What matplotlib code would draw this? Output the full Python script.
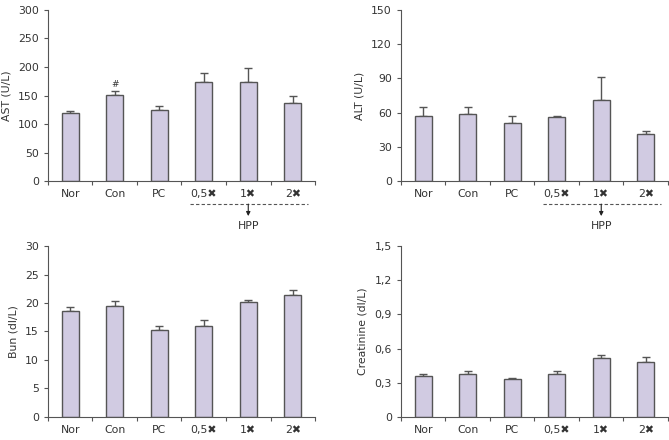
import matplotlib.pyplot as plt
from matplotlib.transforms import blended_transform_factory

plt.rcParams['font.family'] = ['DejaVu Sans']

groups = ['Nor', 'Con', 'PC', '0,5✖', '1✖', '2✖']

ast = [120, 151, 125, 173, 173, 137]
ast_err = [3, 7, 7, 17, 26, 13]

alt = [57, 59, 51, 56, 71, 41]
alt_err = [8, 6, 6, 1, 20, 3]

bun = [18.6, 19.4, 15.2, 16.0, 20.1, 21.4]
bun_err = [0.7, 0.9, 0.7, 1.0, 0.5, 0.9]

crea = [0.36, 0.38, 0.33, 0.38, 0.52, 0.48]
crea_err = [0.02, 0.02, 0.015, 0.02, 0.02, 0.05]

panels = [
    (ast, ast_err, 'AST (U/L)', [0, 50, 100, 150, 200, 250, 300],
     ['0', '50', '100', '150', '200', '250', '300'], True, True),
    (alt, alt_err, 'ALT (U/L)', [0, 30, 60, 90, 120, 150],
     ['0', '30', '60', '90', '120', '150'], True, False),
    (bun, bun_err, 'Bun (dl/L)', [0, 5, 10, 15, 20, 25, 30],
     ['0', '5', '10', '15', '20', '25', '30'], False, False),
    (crea, crea_err, 'Creatinine (dl/L)', [0, 0.3, 0.6, 0.9, 1.2, 1.5],
     ['0', '0,3', '0,6', '0,9', '1,2', '1,5'], False, False),
]

positions = [
    [0.0717, 0.5886, 0.3992, 0.3887],
    [0.5994, 0.5886, 0.3991, 0.3887],
    [0.0717, 0.0523, 0.3992, 0.3886],
    [0.5994, 0.0523, 0.3991, 0.3886],
]

bar_color = '#d1cbe2'
edge = '#555555'
text_c = '#333333'

fig = plt.figure(figsize=(6.69, 4.4), dpi=100)

for pos, (vals, errs, ylabel, yt, ytl, hpp, mark) in zip(positions, panels):
    ax = fig.add_axes(pos)
    x = list(range(len(groups)))
    ax.bar(x, vals, width=0.38, color=bar_color, edgecolor=edge, linewidth=1.0, zorder=2)
    ax.errorbar(x, vals, yerr=[[0] * len(errs), errs], fmt='none', ecolor=edge,
                elinewidth=1.0, capsize=3, capthick=1.0, zorder=1)
    ax.set_xlim(-0.5, 5.5)
    ax.set_ylim(yt[0], yt[-1])
    ax.set_yticks(yt)
    ax.set_yticklabels(ytl)
    ax.set_xticks([i - 0.5 for i in range(len(groups) + 1)])
    ax.set_xticklabels([])
    ax.set_xticks(x, minor=True)
    ax.set_xticklabels(groups, minor=True)
    ax.tick_params(axis='x', which='minor', length=0, pad=6)
    ax.tick_params(axis='both', which='major', length=3, width=0.8, color=edge,
                   labelsize=7.8, labelcolor=text_c)
    ax.tick_params(axis='x', which='minor', labelsize=7.8, labelcolor=text_c)
    for s in ['top', 'right']:
        ax.spines[s].set_visible(False)
    for s in ['left', 'bottom']:
        ax.spines[s].set_color(edge)
        ax.spines[s].set_linewidth(0.8)
    ax.set_ylabel(ylabel, fontsize=7.8, color=text_c, labelpad=5)

    if mark:
        ax.text(1, vals[1] + errs[1] + 4, '#', ha='center', va='bottom',
                fontsize=6.5, color=text_c)

    if hpp:
        tr = blended_transform_factory(ax.transData, ax.transAxes)
        ax.plot([2.69, 5.34], [-0.135, -0.135], transform=tr, clip_on=False,
                color=edge, linestyle=(0, (3, 2)), linewidth=0.8)
        ax.annotate('', xy=(4, -0.205), xytext=(4, -0.135), xycoords=tr,
                    textcoords=tr,
                    arrowprops=dict(arrowstyle='-|>', color='#222222', lw=0.8,
                                    mutation_scale=6, shrinkA=0, shrinkB=0))
        ax.text(4, -0.265, 'HPP', transform=tr, ha='center', va='center',
                fontsize=7.8, color=text_c)

fig.savefig('out.png', dpi=100)
